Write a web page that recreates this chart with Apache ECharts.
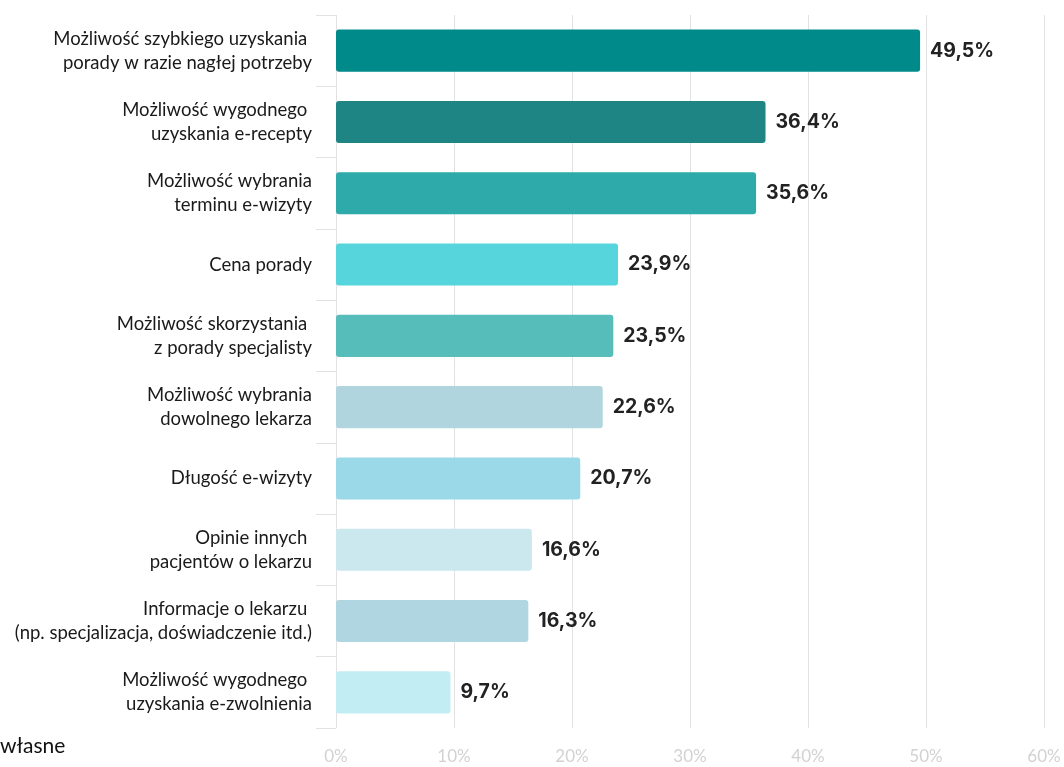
<!DOCTYPE html>
<html>
<head>
<meta charset="utf-8">
<script src="https://cdn.jsdelivr.net/npm/echarts@6/dist/echarts.min.js"></script>
<style>
html,body{margin:0;padding:0;background:#fff;}
#c{width:1064px;height:767px;}
</style>
</head>
<body>
<div id="c"></div>
<script>
var categories = [
  "Możliwość szybkiego uzyskania \nporady w razie nagłej potrzeby",
  "Możliwość wygodnego \nuzyskania e-recepty",
  "Możliwość wybrania\nterminu e-wizyty",
  "Cena porady",
  "Możliwość skorzystania \nz porady specjalisty",
  "Możliwość wybrania\ndowolnego lekarza",
  "Długość e-wizyty",
  "Opinie innych \npacjentów o lekarzu",
  "Informacje o lekarzu \n(np. specjalizacja, doświadczenie itd.)",
  "Możliwość wygodnego \nuzyskania e-zwolnienia"
];
var values = [49.5, 36.4, 35.6, 23.9, 23.5, 22.6, 20.7, 16.6, 16.3, 9.7];
var barColors = ["#008B8A", "#1F8584", "#2FAAAA", "#56D6DC", "#56BDBB", "#B0D5DE", "#9CD9E8", "#CCE8EF", "#B0D7E1", "#C2EDF3"];
var xTicks = [0, 10, 20, 30, 40, 50, 60];

var chart = echarts.init(document.getElementById('c'));
chart.setOption({
  animation: false,
  grid: { left: 336, right: 20, top: 15, bottom: 39, containLabel: false },
  graphic: [{
    type: 'text', left: 0, top: 736,
    style: { text: 'własne', font: '21px Lato', fill: '#111' }
  }],
  xAxis: {
    type: 'value', min: xTicks[0], max: xTicks[xTicks.length - 1], interval: 10,
    axisLine: { show: false }, axisTick: { show: false },
    splitLine: { show: true, lineStyle: { color: '#e2e2e2', width: 1 } },
    axisLabel: { formatter: '{value}%', color: '#d2d2d2', fontFamily: 'Lato', fontSize: 17, margin: 20 }
  },
  yAxis: {
    type: 'category', data: categories, inverse: true,
    axisLine: { show: false },
    axisTick: { show: true, length: 20, lineStyle: { color: '#e2e2e2' } },
    axisLabel: { color: '#1a1a1a', fontFamily: 'Lato', fontSize: 18.5, lineHeight: 24, margin: 24, align: 'right' }
  },
  series: [{
    type: 'bar',
    data: values.map(function (v, i) { return { value: v, itemStyle: { color: barColors[i] } }; }),
    barWidth: '59%',
    itemStyle: { borderRadius: 3 },
    label: {
      show: true, position: 'right', distance: 10,
      formatter: function (p) { return String(p.value).replace('.', ',') + '%'; },
      fontFamily: 'Inter', fontWeight: 'bold', fontSize: 19.5, color: '#222'
    }
  }]
});
</script>
</body>
</html>
